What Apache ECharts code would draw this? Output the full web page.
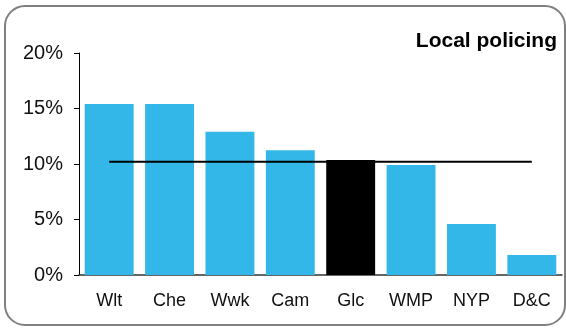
<!DOCTYPE html>
<html>
<head>
<meta charset="utf-8">
<script src="https://cdn.jsdelivr.net/npm/echarts@6/dist/echarts.min.js"></script>
<style>
html, body { margin: 0; padding: 0; background: #fff; }
#chart { width: 566px; height: 328px; }
</style>
</head>
<body>
<div id="chart"></div>
<script>
// categories and values
var aCategories = ['Wlt', 'Che', 'Wwk', 'Cam', 'Glc', 'WMP', 'NYP', 'D&C'];
var aValues = [15.4, 15.4, 12.9, 11.25, 10.35, 9.9, 4.6, 1.8];
var aAverage = [10.2, 10.2, 10.2, 10.2, 10.2, 10.2, 10.2, 10.2];
var sHighlight = 'Glc';
var sTitle = 'Local policing';

var sBlue = '#32b7e8';
var sFont = '"Liberation Sans", Arial, sans-serif';

function BarData() {
    var aData = [];
    for (var i = 0; i < aCategories.length; i++) {
        aData.push({
            value: aValues[i],
            itemStyle: {color: aCategories[i] == sHighlight ? '#000000' : sBlue}
        });
    }
    return aData
}

var jOption = {
    animation: false,
    textStyle: {fontFamily: sFont},
    graphic: [
        {
            type: 'rect',
            shape: {x: 5, y: 6, width: 560, height: 319, r: 20},
            style: {fill: 'none', stroke: '#808080', lineWidth: 2},
            silent: true
        },
        {
            type: 'text',
            right: 9,
            top: 31,
            style: {text: sTitle, font: 'bold 21px ' + sFont, fill: '#000'}
        }
    ],
    grid: {left: 79, right: 4, top: 53, bottom: 53, containLabel: false},
    xAxis: {
        type: 'category',
        data: aCategories,
        axisTick: {show: false},
        axisLine: {lineStyle: {color: '#333', width: 1.5}},
        axisLabel: {color: '#111', fontSize: 18, margin: 17, fontFamily: sFont}
    },
    yAxis: {
        type: 'value',
        min: 0,
        max: 20,
        interval: 5,
        splitLine: {show: false},
        axisLine: {show: true, lineStyle: {color: '#000', width: 1}},
        axisTick: {show: true, length: 5, lineStyle: {color: '#000'}},
        axisLabel: {color: '#111', fontSize: 20, margin: 16, formatter: '{value}%', fontFamily: sFont}
    },
    series: [
        {
            type: 'bar',
            data: BarData(),
            barCategoryGap: '19%'
        },
        {
            type: 'line',
            data: aAverage,
            symbol: 'none',
            lineStyle: {color: '#000', width: 2},
            z: 5
        }
    ]
};

var myChart = echarts.init(document.getElementById('chart'));
myChart.setOption(jOption);
</script>
</body>
</html>
